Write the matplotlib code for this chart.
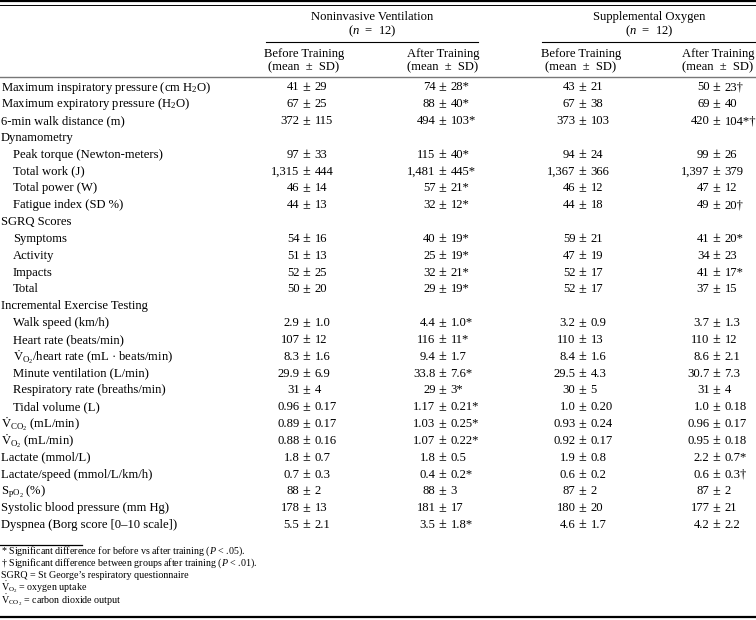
import matplotlib
matplotlib.use("Agg")
import matplotlib.pyplot as plt

plt.rcParams["font.family"] = ["Liberation Serif", "DejaVu Serif"]
plt.rcParams["mathtext.fontset"] = "custom"
plt.rcParams["mathtext.rm"] = "Liberation Serif"
plt.rcParams["mathtext.it"] = "Liberation Serif:italic"

VO2 = r"$\dot{\mathrm{V}}_{\mathrm{O_2}}$"
VCO2 = r"$\dot{\mathrm{V}}_{\mathrm{CO_2}}$"

groups = ["Noninvasive Ventilation", "Supplemental Oxygen"]
group_n = [r"($n$  =  12)", r"($n$  =  12)"]
col_heads = ["Before Training", "After Training", "Before Training", "After Training"]

labels = [
    "Maximum inspiratory pressure (cm H$_2$O)",
    "Maximum expiratory pressure (H$_2$O)",
    "6-min walk distance (m)",
    "Dynamometry",
    "Peak torque (Newton-meters)",
    "Total work (J)",
    "Total power (W)",
    "Fatigue index (SD %)",
    "SGRQ Scores",
    "Symptoms",
    "Activity",
    "Impacts",
    "Total",
    "Incremental Exercise Testing",
    "Walk speed (km/h)",
    "Heart rate (beats/min)",
    VO2 + "/heart rate (mL · beats/min)",
    "Minute ventilation (L/min)",
    "Respiratory rate (breaths/min)",
    "Tidal volume (L)",
    VCO2 + " (mL/min)",
    VO2 + " (mL/min)",
    "Lactate (mmol/L)",
    "Lactate/speed (mmol/L/km/h)",
    r"S$_{\mathrm{pO_2}}$ (%)",
    "Systolic blood pressure (mm Hg)",
    "Dyspnea (Borg score [0–10 scale])",
]
indented = [0, 0, 0, 0, 1, 1, 1, 1, 0, 1, 1, 1, 1, 0, 1, 1, 1, 1, 1, 1, 0, 0, 0, 0, 0, 0, 0]

niv_before = ["41 ± 29", "67 ± 25", "372 ± 115", "", "97 ± 33", "1,315 ± 444", "46 ± 14",
              "44 ± 13", "", "54 ± 16", "51 ± 13", "52 ± 25", "50 ± 20", "", "2.9 ± 1.0",
              "107 ± 12", "8.3 ± 1.6", "29.9 ± 6.9", "31 ± 4", "0.96 ± 0.17", "0.89 ± 0.17",
              "0.88 ± 0.16", "1.8 ± 0.7", "0.7 ± 0.3", "88 ± 2", "178 ± 13", "5.5 ± 2.1"]
niv_after = ["74 ± 28*", "88 ± 40*", "494 ± 103*", "", "115 ± 40*", "1,481 ± 445*", "57 ± 21*",
             "32 ± 12*", "", "40 ± 19*", "25 ± 19*", "32 ± 21*", "29 ± 19*", "", "4.4 ± 1.0*",
             "116 ± 11*", "9.4 ± 1.7", "33.8 ± 7.6*", "29 ± 3*", "1.17 ± 0.21*", "1.03 ± 0.25*",
             "1.07 ± 0.22*", "1.8 ± 0.5", "0.4 ± 0.2*", "88 ± 3", "181 ± 17", "3.5 ± 1.8*"]
so_before = ["43 ± 21", "67 ± 38", "373 ± 103", "", "94 ± 24", "1,367 ± 366", "46 ± 12",
             "44 ± 18", "", "59 ± 21", "47 ± 19", "52 ± 17", "52 ± 17", "", "3.2 ± 0.9",
             "110 ± 13", "8.4 ± 1.6", "29.5 ± 4.3", "30 ± 5", "1.0 ± 0.20", "0.93 ± 0.24",
             "0.92 ± 0.17", "1.9 ± 0.8", "0.6 ± 0.2", "87 ± 2", "180 ± 20", "4.6 ± 1.7"]
so_after = ["50 ± 23†", "69 ± 40", "420 ± 104*†", "", "99 ± 26", "1,397 ± 379", "47 ± 12",
            "49 ± 20†", "", "41 ± 20*", "34 ± 23", "41 ± 17*", "37 ± 15", "", "3.7 ± 1.3",
            "110 ± 12", "8.6 ± 2.1", "30.7 ± 7.3", "31 ± 4", "1.0 ± 0.18", "0.96 ± 0.17",
            "0.95 ± 0.18", "2.2 ± 0.7*", "0.6 ± 0.3†", "87 ± 2", "177 ± 21", "4.2 ± 2.2"]

footnotes = [
    r"* Significant difference for before vs after training ($P$ < .05).",
    r"† Significant difference between groups after training ($P$ < .01).",
    "SGRQ = St George’s respiratory questionnaire",
    VO2 + " = oxygen uptake",
    VCO2 + " = carbon dioxide output",
]

# layout (pixels)
W, H = 756, 620
fig = plt.figure(figsize=(W / 100, H / 100), dpi=100)
ax = fig.add_axes([0, 0, 1, 1])
ax.set_xlim(0, W)
ax.set_ylim(H, 0)
ax.axis("off")

fs = 9.1
pm_x = [307, 443, 583, 717]
head_x = [304, 443, 581, 718]
group_span = [(266, 478), (542, 756)]
row_y0, row_step = 87.5, (525 - 87.5) / 26
gap = 7.5

# rules
ax.plot([0, W], [1, 1], color="black", lw=1.6)
ax.plot([0, W], [4.5, 4.5], color="black", lw=0.7)
ax.plot([0, W], [77, 77], color="#777777", lw=1.0)
ax.plot([0, W], [617, 617], color="black", lw=1.6)
ax.plot([0, 82], [545, 545], color="black", lw=0.9)

for (x0, x1), g, n in zip(group_span, groups, group_n):
    xc = (x0 + x1) / 2
    ax.text(xc, 17, g, ha="center", va="center", fontsize=fs)
    ax.text(xc, 31.5, n, ha="center", va="center", fontsize=fs)
    ax.plot([x0, x1], [42, 42], color="black", lw=0.8)

for x, h in zip(head_x, col_heads):
    ax.text(x, 54, h, ha="center", va="center", fontsize=fs)
    ax.text(x, 67, "(mean  ±  SD)", ha="center", va="center", fontsize=fs)

columns = [niv_before, niv_after, so_before, so_after]
for i, lab in enumerate(labels):
    y = row_y0 + i * row_step
    ax.text(1 + 12 * indented[i], y, lab, ha="left", va="center", fontsize=fs)
    for x, col in zip(pm_x, columns):
        v = col[i]
        if not v:
            continue
        left, right = v.split(" ± ")
        ax.text(x - gap, y, left, ha="right", va="center", fontsize=fs)
        ax.text(x - 0.6, y, "±", ha="center", va="center", fontsize=fs + 1)
        ax.text(x + gap, y, right, ha="left", va="center", fontsize=fs)

foot_y = [551, 563, 575, 587.5, 600]
for yy, f in zip(foot_y, footnotes):
    ax.text(1, yy, f, ha="left", va="center", fontsize=7.2)

fig.savefig("out.png", dpi=100)
